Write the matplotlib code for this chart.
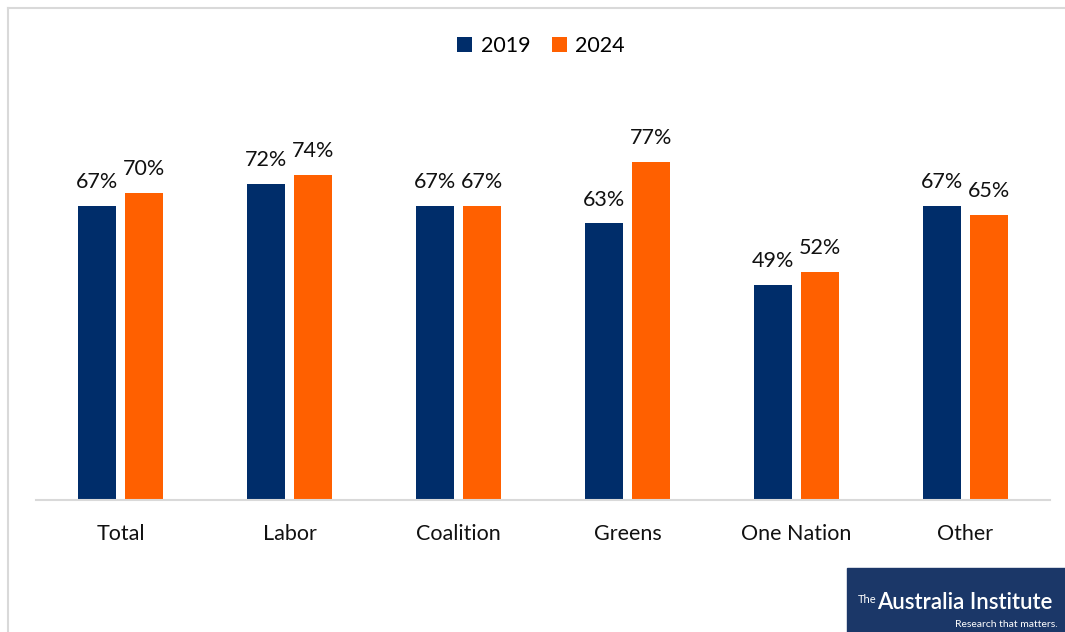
import matplotlib
matplotlib.use("Agg")
import matplotlib.pyplot as plt
from matplotlib.patches import Rectangle
from matplotlib.lines import Line2D
import numpy as np

categories = ["Total", "Labor", "Coalition", "Greens", "One Nation", "Other"]
series_names = ["2019", "2024"]
values_2019 = [67, 72, 67, 63, 49, 67]
values_2024 = [70, 74, 67, 77, 52, 65]
colors = ["#002D6A", "#FF6000"]

plt.rcParams['font.family'] = ['Lato', 'DejaVu Sans']

W, H = 1065, 632
fig = plt.figure(figsize=(W / 100, H / 100), dpi=100)

# axes placement in pixels
left, right, bottom, top = 36, 1050, 500, 61
ax = fig.add_axes([left / W, 1 - bottom / H, (right - left) / W, (bottom - top) / H])

x = np.arange(len(categories))
bw = 0.225
off = 0.14
bars1 = ax.bar(x - off, values_2019, bw, color=colors[0], label=series_names[0], zorder=2)
bars2 = ax.bar(x + off, values_2024, bw, color=colors[1], label=series_names[1], zorder=2)

for bars, vals in ((bars1, values_2019), (bars2, values_2024)):
    for b, v in zip(bars, vals):
        ax.annotate(f"{v}%", (b.get_x() + b.get_width() / 2, v), xytext=(0, 10),
                    textcoords="offset points", ha="center", va="bottom",
                    fontsize=15.5, color="#111111")

ax.set_xlim(-0.5, len(categories) - 0.5)
ax.set_ylim(0, 100)
ax.set_xticks(x)
ax.set_xticklabels(categories, fontsize=15.5, color="#111111")
ax.tick_params(axis="x", length=0, pad=17)
ax.set_yticks([])
for s in ("top", "right", "left"):
    ax.spines[s].set_visible(False)
ax.spines["bottom"].set_color("#D9D9D9")
ax.spines["bottom"].set_linewidth(1.5)

leg = fig.legend(handles=[bars1, bars2], labels=series_names, loc="center",
                 bbox_to_anchor=(541 / W, 1 - 46 / H), ncol=2, frameon=False,
                 fontsize=15.5, handlelength=0.7, handleheight=0.7,
                 columnspacing=1.0, handletextpad=0.4)

# outer frame lines (light grey)
fig.add_artist(Line2D([8 / W, 8 / W], [0, 1 - 8 / H], color="#D9D9D9", lw=1.5,
                      transform=fig.transFigure))
fig.add_artist(Line2D([8 / W, 1], [1 - 8 / H, 1 - 8 / H], color="#D9D9D9", lw=1.5,
                      transform=fig.transFigure))

# logo box
fig.add_artist(Rectangle((847 / W, 0), (W - 847) / W, 64 / H, transform=fig.transFigure,
                         color="#1B3768", zorder=5))
fig.text(858 / W, 1 - 603 / H, "The", fontsize=8, color="white", ha="left", va="baseline",
         family=["Lato", "DejaVu Sans"], zorder=6)
fig.text(877 / W, 1 - 609 / H, "Australia Institute", fontsize=16, color="white",
         ha="left", va="baseline", family=["Lato", "DejaVu Sans"], weight="semibold",
         zorder=6)
fig.text(1058 / W, 1 - 627 / H, "Research that matters.", fontsize=7.5, color="white",
         ha="right", va="baseline", family=["Lato", "DejaVu Sans"], zorder=6)

fig.savefig("out.png", dpi=100, facecolor="white")
